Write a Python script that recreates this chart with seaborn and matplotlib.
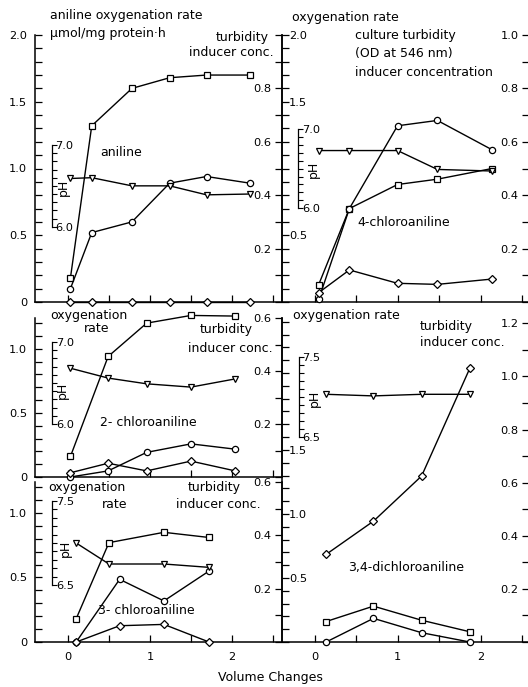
import numpy as np
import matplotlib
matplotlib.use("Agg")
import matplotlib.pyplot as plt
import seaborn as sns

# --- values ---
# squares: oxygenation rate (left axis), circles: turbidity, diamonds: inducer conc. (right axis),
# triangles: pH (inset scale)
ANI_X = [0.03, 0.29, 0.78, 1.24, 1.69, 2.22]
ANI_OX = [0.18, 1.32, 1.60, 1.68, 1.70, 1.70]
ANI_TURB = [0.05, 0.26, 0.30, 0.445, 0.47, 0.445]
ANI_IND = [0.0, 0.0, 0.0, 0.0, 0.0, 0.0]
ANI_PH = [6.59, 6.60, 6.50, 6.50, 6.39, 6.40]

CA4_X = [0.05, 0.42, 1.0, 1.48, 2.14]
CA4_OX = [0.13, 0.70, 0.88, 0.92, 1.00]
CA4_TURB = [0.01, 0.35, 0.66, 0.68, 0.57]
CA4_IND = [0.035, 0.12, 0.07, 0.066, 0.086]
CA4_PH = [6.73, 6.73, 6.73, 6.49, 6.47]

CA2_X = [0.03, 0.49, 0.96, 1.50, 2.04]
CA2_OX = [0.16, 0.94, 1.20, 1.26, 1.255]
CA2_TURB = [0.0, 0.023, 0.093, 0.125, 0.105]
CA2_IND = [0.016, 0.052, 0.023, 0.060, 0.023]
CA2_PH = [6.68, 6.56, 6.49, 6.45, 6.55]

CA3_X = [0.10, 0.50, 1.17, 1.72]
CA3_X2 = [0.10, 0.63, 1.17, 1.72]
CA3_OX = [0.18, 0.77, 0.85, 0.81]
CA3_TURB = [0.0, 0.235, 0.154, 0.266]
CA3_IND = [0.0, 0.061, 0.066, 0.0]
CA3_PH = [7.0, 6.75, 6.75, 6.71]

DCA_X = [0.14, 0.71, 1.29, 1.87]
DCA_OX = [0.16, 0.28, 0.17, 0.08]
DCA_TURB = [0.0, 0.089, 0.035, 0.0]
DCA_IND = [0.33, 0.455, 0.625, 1.03]
DCA_PH = [7.03, 7.01, 7.03, 7.03]

# tick values / labels
X_TICKS = [0, 0.5, 1, 1.5, 2, 2.5]
X_LABELS = ["0", "", "1", "", "2", ""]
OX_TL = ([0, 0.5, 1.0, 1.5, 2.0], ["0", "0.5", "1.0", "1.5", "2.0"])
OX_TR = ([0.5, 1.5, 2.0], ["0.5", "1.5", "2.0"])
OX_ML = ([0, 0.5, 1.0], ["0", "0.5", "1.0"])
OX_BL = ([0, 0.5, 1.0], ["0", "0.5", "1.0"])
OX_MR = ([0.5, 1.0, 1.5], ["0.5", "1.0", "1.5"])
TU_TL = ([0.2, 0.4, 0.6, 0.8], ["0.2", "0.4", "0.6", "0.8"])
TU_TR = ([0.2, 0.4, 0.6, 0.8, 1.0], ["0.2", "0.4", "0.6", "0.8", "1.0"])
TU_ML = ([0.2, 0.4, 0.6], ["0.2", "0.4", "0.6"])
TU_BL = ([0.2, 0.4, 0.6], ["0.2", "0.4", "0.6"])
TU_MR = ([0.2, 0.4, 0.6, 0.8, 1.0, 1.2], ["0.2", "0.4", "0.6", "0.8", "1.0", "1.2"])

W, H = 528, 687
sns.set_style("ticks")
plt.rcParams["font.family"] = ["DejaVu Sans"]
plt.rcParams["axes.edgecolor"] = "black"
plt.rcParams["text.color"] = "black"
plt.rcParams["xtick.color"] = "black"
plt.rcParams["ytick.color"] = "black"
TXT = 9
TICK = 8.2

fig = plt.figure(figsize=(W / 100, H / 100), dpi=100)


def rect(L, R, B, T):
    return [L / W, 1 - B / H, (R - L) / W, (B - T) / H]


def series(ax, x, y, marker, ms):
    sns.lineplot(x=x, y=y, ax=ax, color="black", linewidth=1.0, marker=marker,
                 markersize=ms, markerfacecolor="white", markeredgecolor="black",
                 markeredgewidth=0.9, sort=False, errorbar=None, clip_on=False, zorder=3)


def panel(box, xlim, oxmax, oxt, ox_inside, tumax, tut, ph, xlabels):
    L, R, B, T = box
    ax = fig.add_axes(rect(L, R, B, T))
    ax.set_facecolor("none")
    axt = ax.twinx()
    vlo, plo, vhi, phi, xpx = ph
    s = (plo - phi) / (vhi - vlo)
    axp = ax.twinx()
    axp.set_ylim(vlo - (B - plo) / s, vhi + (phi - T) / s)

    for k in ["top", "right"]:
        ax.spines[k].set_visible(False)
    for k in ["top", "left", "bottom"]:
        axt.spines[k].set_visible(False)
    for k in ["top", "bottom", "right"]:
        axp.spines[k].set_visible(False)
    for a in (ax, axt, axp):
        for sp in a.spines.values():
            sp.set_linewidth(1.1)

    ax.set_xlim(*xlim)
    ax.set_ylim(0, oxmax)
    axt.set_ylim(0, tumax)

    ax.set_xticks(X_TICKS, X_LABELS if xlabels else [""] * len(X_TICKS))
    ax.tick_params(axis="x", direction="in", length=5, width=0.9, pad=7,
                   labelsize=TICK, labelbottom=xlabels)

    ax.set_yticks(oxt[0], oxt[1])
    ax.set_yticks(np.round(np.arange(0, oxmax + 1e-6, 0.1), 2), minor=True)
    ax.tick_params(axis="y", which="both", direction="in", length=5, width=0.9,
                   labelsize=TICK, pad=-5 if ox_inside else 5.5)
    if ox_inside:
        for t in ax.get_yticklabels():
            t.set_ha("left")

    axt.set_yticks(tut[0], tut[1])
    axt.set_yticks(np.round(np.arange(0, tumax + 1e-6, 0.1), 2), minor=True)
    axt.tick_params(axis="y", which="both", direction="in", length=5, width=0.9,
                    labelsize=TICK, pad=-7.5)
    for t in axt.get_yticklabels():
        t.set_ha("right")

    axp.spines["left"].set_position(("axes", (xpx - L) / (R - L)))
    axp.spines["left"].set_bounds(vlo, vhi)
    axp.spines["left"].set_linewidth(0.9)
    axp.yaxis.set_ticks_position("left")
    axp.set_yticks([vlo, vhi], [f"{vlo:.1f}", f"{vhi:.1f}"])
    axp.set_yticks(np.linspace(vlo, vhi, 11), minor=True)
    axp.tick_params(axis="y", which="both", direction="in", length=3.5, width=0.8,
                    labelsize=TICK, pad=-2.5)
    for t in axp.get_yticklabels():
        t.set_ha("left")
    return ax, axt, axp


LX = (-0.402, 2.61)
RX = (-0.392, 2.584)

# aniline
ax, axt, axp = panel((35, 282, 302, 35), LX, 2.0, OX_TL, False, 1.0, TU_TL,
                     (6.0, 226.7, 7.0, 145.0, 51.7), False)
series(ax, ANI_X, ANI_OX, "s", 4.3)
series(axt, ANI_X, ANI_TURB, "o", 4.5)
series(axt, ANI_X, ANI_IND, "D", 3.6)
series(axp, ANI_X, ANI_PH, "v", 4.5)
ax.set_ylim(0, 2.0); axt.set_ylim(0, 1.0)

# 4-chloroaniline
ax, axt, axp = panel((282, 529, 302, 35), RX, 2.0, OX_TR, True, 1.0, TU_TR,
                     (6.0, 208.0, 7.0, 129.3, 298.3), False)
series(ax, CA4_X, CA4_OX, "s", 4.3)
series(axt, CA4_X, CA4_TURB, "o", 4.5)
series(axt, CA4_X, CA4_IND, "D", 3.6)
series(axp, CA4_X, CA4_PH, "v", 4.5)
ax.set_ylim(0, 2.0); axt.set_ylim(0, 1.0)

# 2-chloroaniline
ax, axt, axp = panel((35, 282, 477, 318), LX, 1.24, OX_ML, False, 0.6, TU_ML,
                     (6.0, 424.0, 7.0, 342.0, 52.3), False)
series(ax, CA2_X, CA2_OX, "s", 4.3)
series(axt, CA2_X, CA2_TURB, "o", 4.5)
series(axt, CA2_X, CA2_IND, "D", 3.6)
series(axp, CA2_X, CA2_PH, "v", 4.5)
ax.set_ylim(0, 1.24); axt.set_ylim(0, 0.6)

# 3-chloroaniline
ax, axt, axp = panel((35, 282, 642, 482), LX, 1.24, OX_BL, False, 0.6, TU_BL,
                     (6.5, 585.0, 7.5, 501.0, 52.3), True)
series(ax, CA3_X, CA3_OX, "s", 4.3)
series(axt, CA3_X2, CA3_TURB, "o", 4.5)
series(axt, CA3_X2, CA3_IND, "D", 3.6)
series(axp, CA3_X, CA3_PH, "v", 4.5)
ax.set_ylim(0, 1.24); axt.set_ylim(0, 0.6)

# 3,4-dichloroaniline
ax, axt, axp = panel((282, 529, 642, 318), RX, 2.53, OX_MR, True, 1.22, TU_MR,
                     (6.5, 436.7, 7.5, 356.7, 299.0), True)
series(ax, DCA_X, DCA_OX, "s", 4.3)
series(axt, DCA_X, DCA_TURB, "o", 4.5)
series(axt, DCA_X, DCA_IND, "D", 3.6)
series(axp, DCA_X, DCA_PH, "v", 4.5)
ax.set_ylim(0, 2.53); axt.set_ylim(0, 1.22)


def label(x, y, s, ha="left", rot=0):
    fig.text(x / W, 1 - y / H, s, ha=ha, va="center", fontsize=TXT, rotation=rot)


label(50, 16, "aniline oxygenation rate")
label(50, 33, "\u03bcmol/mg protein\u00b7h")
label(269, 37, "turbidity", "right")
label(274, 53, "inducer conc.", "right")
label(100, 153, "aniline")
label(63, 187, "pH", "center", 90)

label(292, 17, "oxygenation rate")
label(355, 36, "culture turbidity")
label(355, 54, "(OD at 546 nm)")
label(355, 72, "inducer concentration")
label(357, 223, "4-chloroaniline")
label(313, 169, "pH", "center", 90)

label(50, 316, "oxygenation")
label(97, 329, "rate", "center")
label(253, 329, "turbidity", "right")
label(273, 349, "inducer conc.", "right")
label(100, 423, "2- chloroaniline")
label(62, 390, "pH", "center", 90)

label(48, 488, "oxygenation")
label(102, 505, "rate")
label(188, 488, "turbidity")
label(176, 505, "inducer conc.")
label(98, 610, "3- chloroaniline")
label(65, 548, "pH", "center", 90)

label(293, 315, "oxygenation rate")
label(420, 326, "turbidity")
label(420, 343, "inducer conc.")
label(348, 568, "3,4-dichloroaniline")
label(314, 398, "pH", "center", 90)

label(270, 678, "Volume Changes", "center")

fig.savefig("out.png", dpi=100)
